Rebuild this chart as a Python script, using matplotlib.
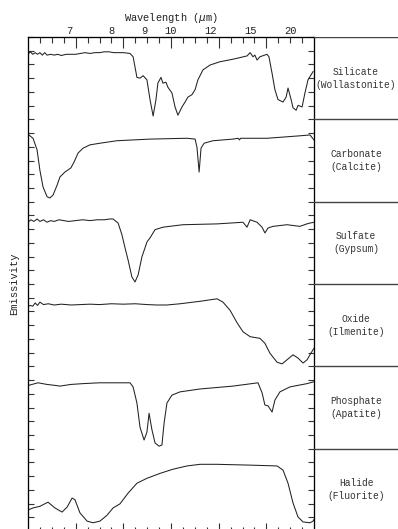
import numpy as np
import matplotlib.pyplot as plt
from matplotlib.transforms import blended_transform_factory

# minerals (top to bottom) and their labels in the right-hand column
names = ['Silicate\n(Wollastonite)', 'Carbonate\n(Calcite)', 'Sulfate\n(Gypsum)',
         'Oxide\n(Ilmenite)', 'Phosphate\n(Apatite)', 'Halide\n(Fluorite)']

# wavenumber (cm^-1) and relative emissivity within each strip
sil_wn = [1600, 1590, 1580, 1570, 1560, 1550, 1540, 1530, 1520, 1505, 1490, 1475, 1460,
          1440, 1420, 1400, 1380, 1360, 1340, 1320, 1300, 1280, 1260, 1240, 1220, 1200,
          1172, 1159, 1143, 1130, 1117, 1101, 1088, 1075, 1063, 1055, 1042, 1034, 1021,
          1013, 996, 983, 971, 954, 941, 929, 912, 899, 887, 866, 836, 794, 740, 681,
          668, 656, 648, 639, 627, 597, 589, 576, 564, 551, 530, 517, 509, 496, 488,
          475, 467, 450, 438, 425, 404]
sil_em = [0.79, 0.82, 0.79, 0.81, 0.79, 0.81, 0.78, 0.81, 0.78, 0.79, 0.78, 0.79, 0.775,
          0.79, 0.79, 0.79, 0.80, 0.81, 0.80, 0.81, 0.81, 0.82, 0.82, 0.81, 0.81, 0.81,
          0.80, 0.76, 0.51, 0.50, 0.53, 0.48, 0.24, 0.04, 0.24, 0.44, 0.51, 0.44, 0.45,
          0.39, 0.32, 0.15, 0.05, 0.15, 0.21, 0.27, 0.30, 0.36, 0.48, 0.60, 0.66, 0.70,
          0.73, 0.77, 0.81, 0.76, 0.78, 0.72, 0.76, 0.79, 0.76, 0.56, 0.36, 0.24, 0.21,
          0.27, 0.38, 0.24, 0.14, 0.11, 0.17, 0.15, 0.32, 0.48, 0.58]

carb_wn = [1600, 1596, 1579, 1562, 1550, 1537, 1520, 1508, 1495, 1478, 1466, 1445, 1420,
           1407, 1390, 1369, 1340, 1298, 1227, 1088, 933, 899, 891, 882, 874, 861, 824,
           740, 718, 713, 708, 597, 459, 417, 400]
carb_em = [0.81, 0.81, 0.77, 0.63, 0.38, 0.18, 0.06, 0.045, 0.08, 0.20, 0.30, 0.36, 0.41,
           0.48, 0.59, 0.65, 0.69, 0.71, 0.74, 0.76, 0.77, 0.76, 0.66, 0.36, 0.65, 0.71,
           0.74, 0.76, 0.77, 0.75, 0.77, 0.77, 0.80, 0.81, 0.75]

sulf_wn = [1600, 1588, 1575, 1562, 1550, 1535, 1520, 1505, 1490, 1470, 1450, 1430, 1400,
           1370, 1340, 1310, 1280, 1256, 1243, 1222, 1206, 1193, 1180, 1164, 1151, 1138,
           1122, 1109, 1101, 1088, 1067, 1034, 950, 807, 698, 681, 668, 639, 618, 606,
           593, 572, 513, 459, 430, 417, 400]
sulf_em = [0.75, 0.78, 0.76, 0.79, 0.76, 0.78, 0.75, 0.77, 0.76, 0.78, 0.77, 0.76, 0.77,
           0.78, 0.77, 0.78, 0.78, 0.79, 0.79, 0.74, 0.60, 0.44, 0.29, 0.085, 0.025, 0.11,
           0.33, 0.44, 0.51, 0.56, 0.66, 0.69, 0.72, 0.73, 0.75, 0.69, 0.78, 0.75, 0.69,
           0.62, 0.68, 0.70, 0.72, 0.70, 0.73, 0.74, 0.75]

oxi_wn = [1600, 1590, 1580, 1570, 1560, 1550, 1535, 1515, 1490, 1460, 1420, 1380, 1340,
          1300, 1250, 1200, 1150, 1100, 1060, 1017, 962, 878, 807, 782, 752, 723, 698,
          668, 627, 606, 585, 555, 534, 513, 488, 467, 446, 429, 417, 400]
oxi_em = [0.73, 0.74, 0.73, 0.77, 0.74, 0.78, 0.75, 0.76, 0.745, 0.755, 0.745, 0.75, 0.755,
          0.75, 0.76, 0.755, 0.76, 0.75, 0.745, 0.745, 0.76, 0.79, 0.82, 0.78, 0.68, 0.53,
          0.42, 0.36, 0.34, 0.28, 0.16, 0.05, 0.03, 0.08, 0.14, 0.10, 0.04, 0.08, 0.14, 0.22]

phos_wn = [1600, 1596, 1558, 1520, 1490, 1466, 1420, 1369, 1300, 1240, 1172, 1159, 1143,
           1130, 1113, 1101, 1092, 1080, 1067, 1050, 1038, 1029, 1017, 996, 962, 878, 740,
           635, 618, 606, 593, 576, 564, 543, 501, 429, 404, 400]
phos_em = [0.77, 0.77, 0.80, 0.78, 0.77, 0.76, 0.78, 0.79, 0.80, 0.80, 0.80, 0.75, 0.555,
           0.26, 0.105, 0.20, 0.43, 0.23, 0.07, 0.03, 0.045, 0.31, 0.555, 0.65, 0.69, 0.725,
           0.76, 0.80, 0.68, 0.53, 0.52, 0.445, 0.59, 0.69, 0.75, 0.79, 0.81, 0.81]

hal_wn = [1600, 1579, 1550, 1516, 1487, 1457, 1436, 1415, 1403, 1382, 1352, 1327, 1298,
          1269, 1243, 1214, 1180, 1143, 1101, 1046, 992, 933, 878, 807, 668, 555, 530,
          509, 488, 467, 446, 417, 404, 400]
hal_em = [0.255, 0.28, 0.30, 0.35, 0.28, 0.23, 0.29, 0.40, 0.38, 0.22, 0.12, 0.10, 0.12,
          0.19, 0.28, 0.33, 0.46, 0.58, 0.64, 0.70, 0.75, 0.79, 0.81, 0.81, 0.80, 0.79,
          0.74, 0.58, 0.34, 0.17, 0.11, 0.10, 0.12, 0.14]

spectra = [(sil_wn, sil_em), (carb_wn, carb_em), (sulf_wn, sulf_em),
           (oxi_wn, oxi_em), (phos_wn, phos_em), (hal_wn, hal_em)]

wl_labels = [7, 8, 9, 10, 12, 15, 20]  # micrometres, shown along the top

font = 'Liberation Mono'
W, H = 398, 529
fig = plt.figure(figsize=(W / 100, H / 100), dpi=100)

# main plotting box, in pixels: x 28..314, y 37..531
x0, x1, ytop, ybot = 28, 314, 37, 531
ax = fig.add_axes([x0 / W, 1 - ybot / H, (x1 - x0) / W, (ybot - ytop) / H])
n = len(spectra)
for i, (wn, em) in enumerate(spectra):
    off = n - 1 - i
    ax.plot(wn, np.array(em) + off, color='#222222', lw=0.75)

ax.set_xlim(1600, 400)
ax.set_ylim(0, n)
ax.set_xticks(np.arange(1400, 599, -200))
ax.set_xticks(np.arange(1550, 401, -50), minor=True)
ax.set_yticks(np.arange(0, n + 0.01, 1 / 6))
ax.set_xticklabels([])
ax.set_yticklabels([])
ax.tick_params(axis='x', which='major', direction='in', length=6, width=0.8, color='#333')
ax.tick_params(axis='x', which='minor', direction='in', length=3, width=0.8, color='#333')
ax.tick_params(axis='y', direction='in', length=4, width=0.8, left=True, right=True,
               color='#333')
for s in ax.spines.values():
    s.set_color('#333333')
    s.set_linewidth(0.9)

# top axis: same tick marks, labelled in wavelength
top = ax.twiny()
top.set_xlim(ax.get_xlim())
top.set_xticks(np.arange(1400, 599, -200))
top.set_xticks(np.arange(1550, 401, -50), minor=True)
top.set_xticklabels([])
top.tick_params(axis='x', which='major', direction='in', length=8, width=0.8, color='#333')
top.tick_params(axis='x', which='minor', direction='in', length=4, width=0.8, color='#333')
tr = blended_transform_factory(ax.transData, ax.transAxes)
for w in wl_labels:
    ax.text(1e4 / w, 1.006, str(w), transform=tr, ha='center', va='baseline',
            fontsize=7.5, family=font, color='#222')
ax.text(0.5, 1.033, r'Wavelength ($\mu$m)', transform=ax.transAxes, ha='center',
        va='baseline', fontsize=7.5, family=font, color='#222')
ax.set_ylabel('Emissivity', fontsize=7.5, family=font, color='#222', labelpad=3)

# right-hand label column
lab = fig.add_axes([x1 / W, 1 - ybot / H, (W - x1) / W, (ybot - ytop) / H])
lab.set_xlim(0, 1)
lab.set_ylim(0, n)
lab.axis('off')
for k in range(1, n + 1):
    lab.axhline(k, color='#444444', lw=1)
for i, name in enumerate(names):
    lab.text(0.5, n - i - 0.5, name, ha='center', va='center', fontsize=6.9,
             family=font, color='#333', linespacing=1.4)

fig.savefig('out.png', dpi=100)
